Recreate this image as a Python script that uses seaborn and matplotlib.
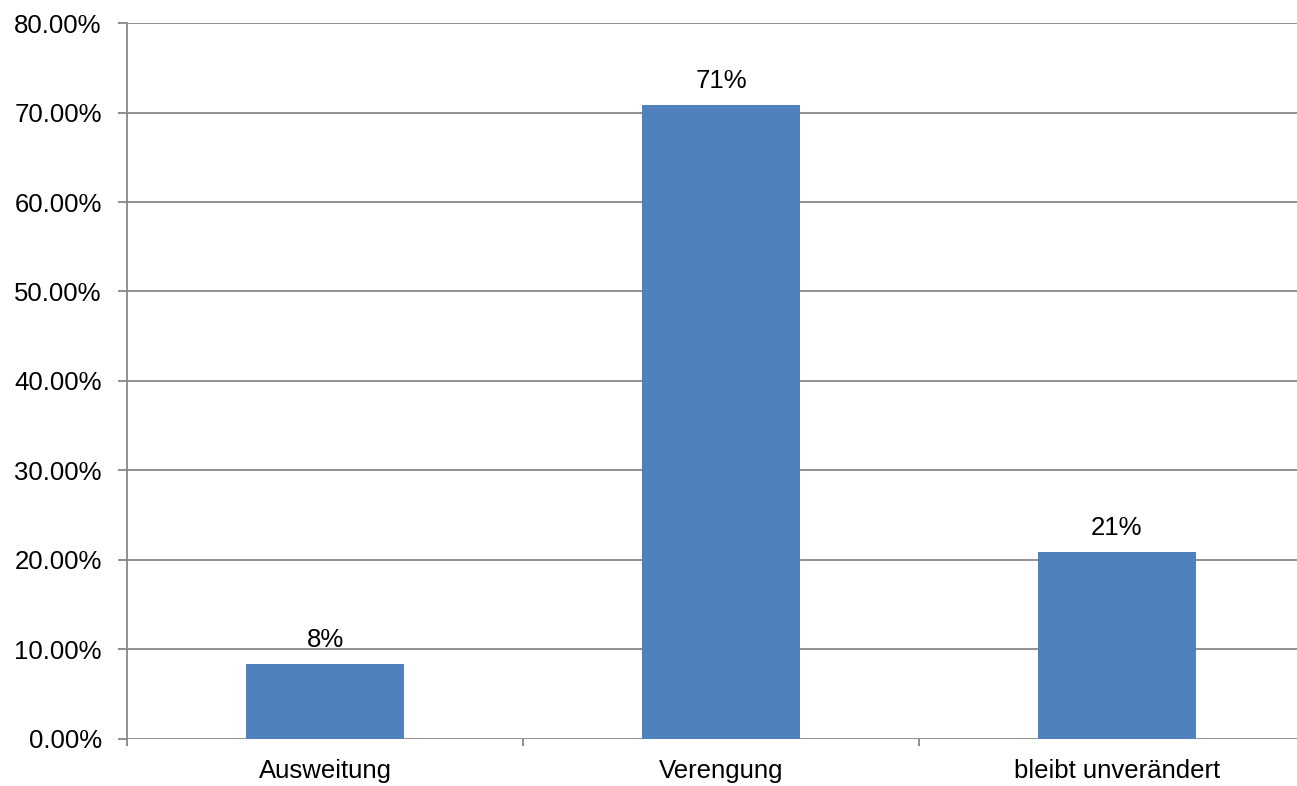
import matplotlib
matplotlib.use('Agg')
import matplotlib.pyplot as plt
import seaborn as sns
import pandas as pd
from matplotlib.ticker import FuncFormatter, FixedLocator

categories = ["Ausweitung", "Verengung", "bleibt unverändert"]
shares = [8.33, 70.83, 20.83]
bar_labels = ["8%", "71%", "21%"]

df = pd.DataFrame({"Kategorie": categories, "Anteil": shares})

sns.set_style("white")
plt.rcParams['font.family'] = ['Liberation Sans', 'DejaVu Sans']
plt.rcParams['text.color'] = 'black'
plt.rcParams['xtick.color'] = 'black'
plt.rcParams['ytick.color'] = 'black'

fig = plt.figure(figsize=(12.97, 7.86), dpi=100)
# Excel-like plot area; the right edge runs slightly past the image border
ax = fig.add_axes([0.0983, 0.0604, 0.9152, 0.9100])

sns.barplot(data=df, x="Kategorie", y="Anteil", color="#4F81BD",
            saturation=1, width=0.4, linewidth=0, ax=ax)

grid_color = "#878787"
ax.set_ylim(0, 80)
ax.set_xlim(-0.5, 2.5)
ax.set_yticks(range(0, 81, 10))
ax.yaxis.set_major_formatter(FuncFormatter(lambda v, p: f"{v:.2f}%"))
ax.grid(True, axis='y', color=grid_color, linewidth=1.3)
ax.set_axisbelow(True)

for side in ["top", "right", "bottom"]:
    ax.spines[side].set_visible(False)
ax.spines["left"].set_color(grid_color)
ax.spines["left"].set_linewidth(1.3)

ax.tick_params(axis='y', length=6.5, width=1.3, color=grid_color,
               labelsize=18.5, labelcolor='black', pad=12, left=True)
ax.tick_params(axis='x', which='major', length=0, labelsize=18.5,
               labelcolor='black', pad=15)
ax.xaxis.set_minor_locator(FixedLocator([-0.5, 0.5, 1.5, 2.5]))
ax.tick_params(axis='x', which='minor', length=5, width=1.3,
               color=grid_color, bottom=True)

ax.set_xlabel("")
ax.set_ylabel("")

for i, (v, lab) in enumerate(zip(shares, bar_labels)):
    ax.annotate(lab, (i, v), xytext=(0, 9), textcoords='offset points',
                ha='center', va='bottom', fontsize=18.5, color='black')

plt.savefig("out.png", dpi=100)
plt.close()
